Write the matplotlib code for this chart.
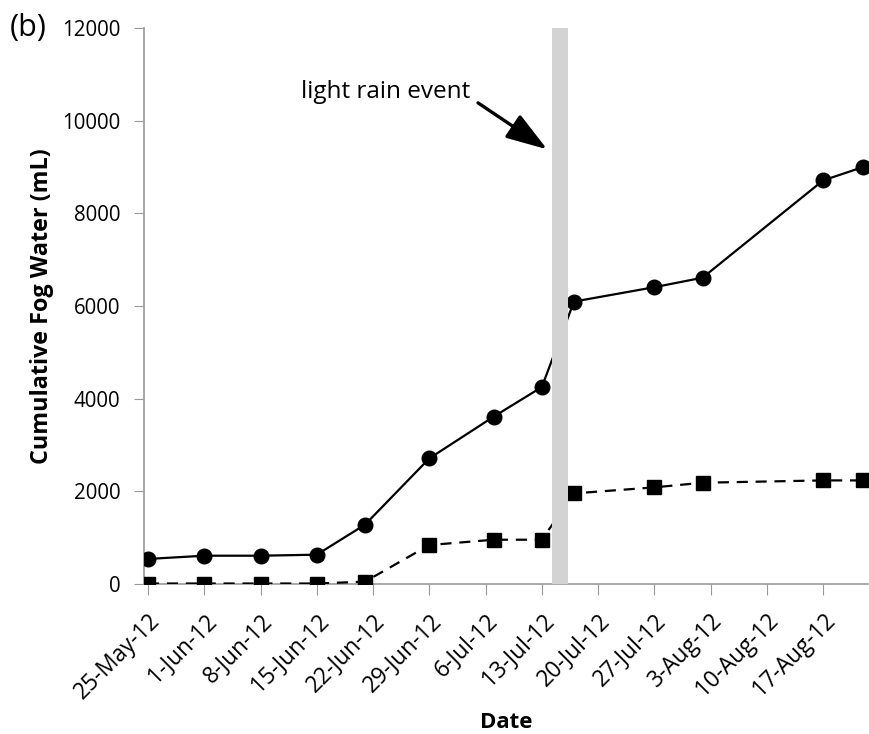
import matplotlib
matplotlib.use("Agg")
import matplotlib.pyplot as plt
import pandas as pd

# ---- data ----
dates = ["2012-05-25", "2012-06-01", "2012-06-08", "2012-06-15", "2012-06-21",
         "2012-06-29", "2012-07-07", "2012-07-13", "2012-07-17", "2012-07-27",
         "2012-08-02", "2012-08-17", "2012-08-22"]
series_circle = [540, 610, 610, 632, 1280, 2710, 3610, 4250, 6095, 6405, 6610, 8710, 9000]
series_square = [10, 10, 10, 10, 50, 840, 955, 955, 1955, 2085, 2185, 2235, 2235]
rain_start = "2012-07-14 05:00"
rain_end = "2012-07-16 05:00"
tick_dates = ["2012-05-25", "2012-06-01", "2012-06-08", "2012-06-15", "2012-06-22",
              "2012-06-29", "2012-07-06", "2012-07-13", "2012-07-20", "2012-07-27",
              "2012-08-03", "2012-08-10", "2012-08-17"]
y_ticks = [0, 2000, 4000, 6000, 8000, 10000, 12000]

x = pd.to_datetime(dates)
xt = pd.to_datetime(tick_dates)

plt.rcParams['font.family'] = ['Open Sans', 'DejaVu Sans']

fig = plt.figure(figsize=(8.7, 7.34), dpi=100)
ax = fig.add_axes([0.1655, 0.2044, 0.8322, 0.7575])

ax.plot(x, series_circle, color='black', lw=1.6, marker='o', ms=10.5, zorder=3)
ax.plot(x, series_square, color='black', lw=1.6, ls=(0, (5, 3.5)), marker='s', ms=10, zorder=3)

ax.axvspan(pd.Timestamp(rain_start), pd.Timestamp(rain_end), color='#d3d3d3', zorder=4, lw=0)

ax.set_xlim(x[0] - pd.Timedelta(hours=12), x[-1] + pd.Timedelta(hours=14))
ax.set_ylim(0, 12000)
ax.set_yticks(y_ticks)
ax.set_xticks(xt)
ax.set_xticklabels([f"{d.day}-{d.strftime('%b-%y')}" for d in xt], rotation=45,
                   ha='right', va='top', rotation_mode='anchor', fontsize=16.3)
ax.tick_params(axis='y', labelsize=14.8, length=7, color='#999999', pad=10)
ax.tick_params(axis='x', length=8, color='#999999', pad=10)

for s in ['top', 'right']:
    ax.spines[s].set_visible(False)
for s in ['left', 'bottom']:
    ax.spines[s].set_color('#999999')
    ax.spines[s].set_linewidth(1.2)

ax.set_ylabel('Cumulative Fog Water (mL)', fontsize=16.8, fontweight='bold', labelpad=6)
ax.set_xlabel('Date', fontsize=16, fontweight='bold', labelpad=6)

ax.annotate('light rain event',
            xy=(pd.Timestamp("2012-07-13 16:00"), 9380),
            xytext=(pd.Timestamp("2012-06-13 02:00"), 10620),
            fontsize=17.5, va='center', ha='left',
            arrowprops=dict(arrowstyle='-|>,head_length=1.45,head_width=0.48', color='black',
                            lw=2.4, shrinkA=4, shrinkB=0, relpos=(1.0, 0.25)),
            zorder=5)

fig.text(0.011, 0.962, '(b)', fontsize=22, va='center', ha='left')

fig.savefig('out.png', dpi=100)
